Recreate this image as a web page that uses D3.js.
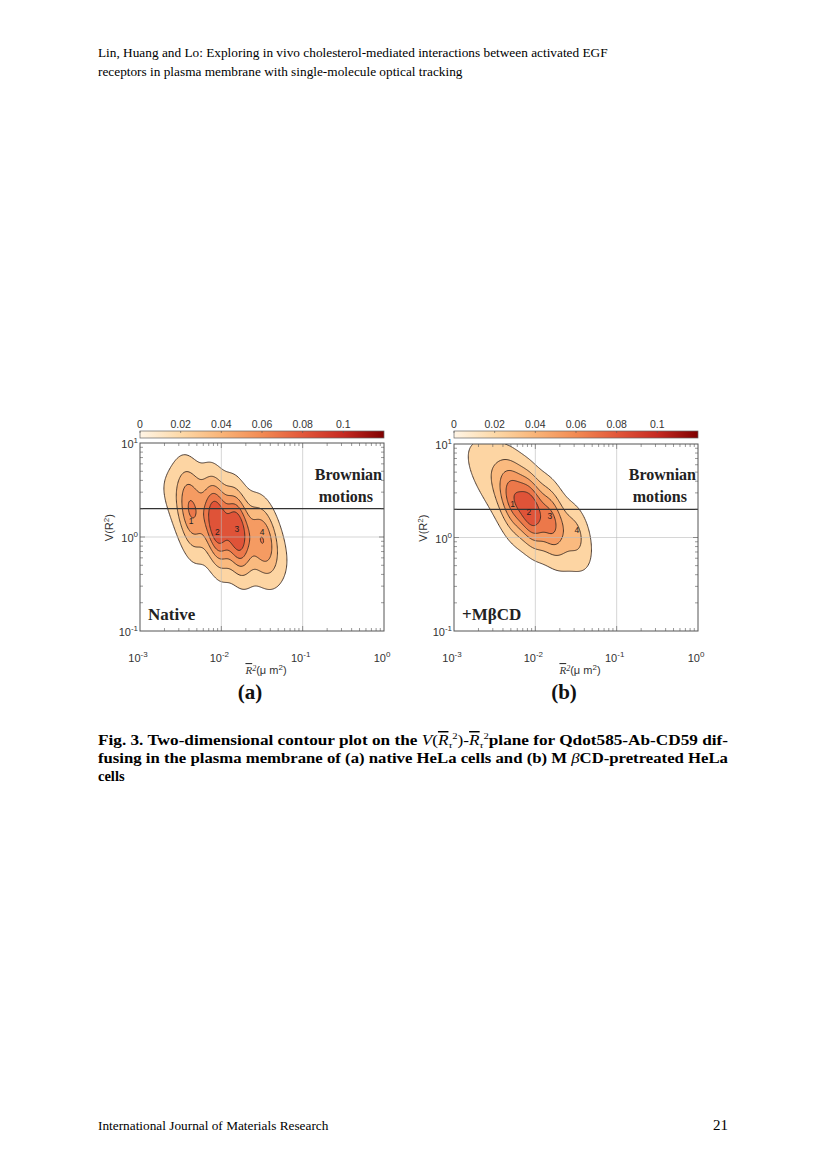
<!DOCTYPE html>
<html><head><meta charset="utf-8">
<script src="https://cdn.jsdelivr.net/npm/d3@7"></script>
<style>body{margin:0;background:#fff}</style></head>
<body><svg id="s" width="827" height="1169"></svg>
<script>
// ---- data ----
const xTicks = [-3, -2, -1, 0];           // log10 of R^2 (um^2)
const yTicks = [-1, 0, 1];                // log10 of V(R^2)
const cbTicks = [0, 0.02, 0.04, 0.06, 0.08, 0.1];
const levels = [0.01, 0.025, 0.04, 0.055, 0.07];
const brownianLevel = 2;
// density components: [log10 x centre, log10 y centre, sigma u, sigma v, rho, amplitude]
const compA = [
  [-1.98, 0.14, 0.48, 0.38, -0.65, 0.030],
  [-2.38, 0.28, 0.11, 0.31, -0.3, 0.036],
  [-2.06, 0.15, 0.10, 0.30, -0.3, 0.060],
  [-1.80, 0.06, 0.10, 0.29, -0.3, 0.058],
  [-1.48, -0.02, 0.12, 0.26, -0.3, 0.038]
];
const compB = [
  [-2.12, 0.36, 0.44, 0.42, -0.75, 0.036],
  [-2.27, 0.40, 0.12, 0.26, -0.3, 0.032],
  [-2.05, 0.28, 0.10, 0.24, -0.3, 0.042],
  [-1.80, 0.18, 0.11, 0.24, -0.3, 0.032],
  [-1.50, 0.05, 0.11, 0.20, -0.3, 0.018]
];
const peakLabelsA = [["1",-2.37,0.17],["2",-2.05,0.05],["3",-1.81,0.08],["4",-1.50,0.05]];
const peakLabelsB = [["1",-2.28,0.36],["2",-2.08,0.27],["3",-1.82,0.23],["4",-1.49,0.08]];

const svg = d3.select("#s");
const serif = "'Liberation Serif','Times New Roman',serif";
const sans = "'Liberation Sans',Arial,sans-serif";

svg.append("text").attr("x",98).attr("y",57).attr("font-family",serif).attr("font-size",13.3)
  .text("Lin, Huang and Lo: Exploring in vivo cholesterol-mediated interactions between activated EGF");
svg.append("text").attr("x",98).attr("y",76).attr("font-family",serif).attr("font-size",13.3)
  .text("receptors in plasma membrane with single-molecule optical tracking");
svg.append("text").attr("x",98).attr("y",1130).attr("font-family",serif).attr("font-size",13.3)
  .text("International Journal of Materials Research");
svg.append("text").attr("x",728).attr("y",1130).attr("text-anchor","end").attr("font-family",serif).attr("font-size",15)
  .text("21");

const colorStops = ["#fff5e6","#fdd9a8","#f9b478","#f28a53","#e2573a","#c62a22","#7f0000"];
const color = d3.scaleLinear().domain(d3.range(7).map(i=>i*0.02)).range(colorStops);

const defs = svg.append("defs");

function panel(px, top, comps, labels, name, tag, id) {
  const w = 244, bottom = 631;
  const x = d3.scaleLinear().domain([-3,0]).range([px, px+w]);
  const y = d3.scaleLinear().domain([-1,1]).range([bottom, top]);
  const g = svg.append("g");
  const grad = defs.append("linearGradient").attr("id","cb"+id);
  colorStops.forEach((c,i)=>grad.append("stop").attr("offset",(i/6*100)+"%").attr("stop-color",c));
  const cbx = d3.scaleLinear().domain([0,0.12]).range([px,px+w]);
  g.append("rect").attr("x",px).attr("y",431).attr("width",w).attr("height",7)
    .attr("fill",`url(#cb${id})`).attr("stroke","#666").attr("stroke-width",0.7);
  cbTicks.forEach(t=>{
    g.append("line").attr("x1",cbx(t)).attr("x2",cbx(t)).attr("y1",431).attr("y2",433).attr("stroke","#555").attr("stroke-width",0.6);
    g.append("text").attr("x",cbx(t)).attr("y",428).attr("text-anchor","middle")
      .attr("font-family",sans).attr("font-size",10.5).attr("fill","#333").text(t===0?"0":String(t));
  });
  const n=240, m=160;
  const vals = new Float64Array(n*m);
  const gu = d3.scaleLinear().domain([0,n-1]).range([-3,0]);
  const gv = d3.scaleLinear().domain([0,m-1]).range([1,-1]);
  for (let j=0;j<m;j++) for (let i=0;i<n;i++){
    const u=gu(i), v=gv(j); let s=0;
    for (const [cu,cv,su,sv,r,a] of comps){
      const du=(u-cu)/su, dv=(v-cv)/sv;
      s += a*Math.exp(-(du*du-2*r*du*dv+dv*dv)/(2*(1-r*r)));
    }
    vals[j*n+i]=s;
  }
  const cs = d3.contours().size([n,m]).thresholds(levels)(vals);
  const proj = d3.geoTransform({point:function(a,b){
    this.stream.point(x(gu(a-0.5)), y(gv(b-0.5)));}});
  const path = d3.geoPath(proj);
  defs.append("clipPath").attr("id","cl"+id).append("rect").attr("x",px).attr("y",top).attr("width",w).attr("height",bottom-top);
  const cg = g.append("g").attr("clip-path",`url(#cl${id})`);
  cg.selectAll("path").data(cs).join("path").attr("d",path)
    .attr("fill",(d,i)=>color(levels[i]+0.012)).attr("stroke","#3a2a22").attr("stroke-width",0.9);
  [-2,-1].forEach(t=>g.append("line").attr("x1",x(t)).attr("x2",x(t)).attr("y1",top).attr("y2",bottom).attr("stroke","#bbb").attr("stroke-width",0.6));
  g.append("line").attr("x1",px).attr("x2",px+w).attr("y1",y(0)).attr("y2",y(0)).attr("stroke","#bbb").attr("stroke-width",0.6);
  g.append("line").attr("x1",px).attr("x2",px+w).attr("y1",y(Math.log10(brownianLevel))).attr("y2",y(Math.log10(brownianLevel)))
    .attr("stroke","#333").attr("stroke-width",1.3);
  labels.forEach(([t,u,v])=>g.append("text").attr("x",x(u)).attr("y",y(v)+3).attr("text-anchor","middle")
    .attr("font-family",sans).attr("font-size",8.5).attr("fill","#222").text(t));
  g.append("rect").attr("x",px).attr("y",top).attr("width",w).attr("height",bottom-top).attr("fill","none").attr("stroke","#555").attr("stroke-width",1);
  for (let d=-3; d<0; d++) for (let k=1;k<10;k++){
    const t=d+Math.log10(k), L = k===1?5:3;
    if (k===1 && d===-3) continue;
    g.append("line").attr("x1",x(t)).attr("x2",x(t)).attr("y1",bottom).attr("y2",bottom-L).attr("stroke","#555").attr("stroke-width",0.6);
    g.append("line").attr("x1",x(t)).attr("x2",x(t)).attr("y1",top).attr("y2",top+L).attr("stroke","#555").attr("stroke-width",0.6);
  }
  for (let d=-1; d<1; d++) for (let k=1;k<10;k++){
    const t=d+Math.log10(k), L = k===1?5:3;
    if (k===1 && d===-1) continue;
    g.append("line").attr("x1",px).attr("x2",px+L).attr("y1",y(t)).attr("y2",y(t)).attr("stroke","#555").attr("stroke-width",0.6);
    g.append("line").attr("x1",px+w).attr("x2",px+w-L).attr("y1",y(t)).attr("y2",y(t)).attr("stroke","#555").attr("stroke-width",0.6);
  }
  xTicks.forEach(t=>{
    const tx=g.append("text").attr("x",x(t)-2).attr("y",662).attr("text-anchor","middle")
      .attr("font-family",sans).attr("font-size",11).attr("fill","#333");
    tx.append("tspan").text("10");
    tx.append("tspan").attr("dy",-5).attr("font-size",8).text(String(t));
  });
  yTicks.forEach(t=>{
    const tx=g.append("text").attr("x",px-2).attr("y",y(t)+5).attr("text-anchor","end")
      .attr("font-family",sans).attr("font-size",11).attr("fill","#333");
    tx.append("tspan").text("10");
    tx.append("tspan").attr("dy",-5).attr("font-size",8).text(String(t));
  });
  const xt = g.append("text").attr("x",x(-1.5)+4).attr("y",674).attr("text-anchor","middle").attr("font-size",11).attr("fill","#333");
  xt.append("tspan").attr("font-family",serif).attr("font-style","italic").attr("text-decoration","overline").text("R");
  xt.append("tspan").attr("font-family",serif).attr("font-style","italic").attr("dy",-3).attr("font-size",8).text("2");
  xt.append("tspan").attr("font-family",sans).attr("dy",3).text("(μ m");
  xt.append("tspan").attr("font-family",sans).attr("dy",-4).attr("font-size",8).text("2");
  xt.append("tspan").attr("font-family",sans).attr("dy",4).text(")");
  const yt = g.append("text").attr("transform",`translate(${px-27},${y(0.1)}) rotate(-90)`).attr("text-anchor","middle")
    .attr("font-family",sans).attr("font-size",11).attr("fill","#333");
  yt.append("tspan").text("V(R");
  yt.append("tspan").attr("dy",-4).attr("font-size",8).text("2");
  yt.append("tspan").attr("dy",4).text(")");
  g.append("text").attr("x",px+w-2).attr("y",480).attr("text-anchor","end").attr("font-family",serif).attr("font-weight","bold").attr("font-size",16).attr("fill","#222").text("Brownian");
  g.append("text").attr("x",px+w-11).attr("y",502).attr("text-anchor","end").attr("font-family",serif).attr("font-weight","bold").attr("font-size",16).attr("fill","#222").text("motions");
  g.append("text").attr("x",px+8).attr("y",620).attr("font-family",serif).attr("font-weight","bold").attr("font-size",17).attr("fill","#222").text(name);
  g.append("text").attr("x",px+110).attr("y",699).attr("text-anchor","middle").attr("font-family",serif).attr("font-weight","bold").attr("font-size",21).attr("fill","#111").text(tag);
}
panel(140, 443, compA, peakLabelsA, "Native", "(a)", "a");
panel(454, 444, compB, peakLabelsB, "+MβCD", "(b)", "b");

const cap = svg.append("g").attr("font-family",serif).attr("font-weight","bold").attr("font-size",14.5).attr("fill","#000");
const l1 = cap.append("text").attr("x",98).attr("y",745).attr("textLength",630).attr("lengthAdjust","spacingAndGlyphs");
l1.append("tspan").text("Fig. 3. Two-dimensional contour plot on the ");
l1.append("tspan").attr("font-weight","normal").attr("font-style","italic").text("V");
l1.append("tspan").attr("font-weight","normal").text("(");
l1.append("tspan").attr("font-weight","normal").attr("font-style","italic").attr("text-decoration","overline").text("R");
l1.append("tspan").attr("font-weight","normal").attr("font-style","italic").attr("font-size",9).attr("dy",3).text("τ");
l1.append("tspan").attr("font-weight","normal").attr("font-size",9).attr("dy",-9).text("2");
l1.append("tspan").attr("font-weight","normal").attr("dy",6).text(")-");
l1.append("tspan").attr("font-weight","normal").attr("font-style","italic").attr("text-decoration","overline").text("R");
l1.append("tspan").attr("font-weight","normal").attr("font-style","italic").attr("font-size",9).attr("dy",3).text("τ");
l1.append("tspan").attr("font-weight","normal").attr("font-size",9).attr("dy",-9).text("2");
l1.append("tspan").attr("dy",6).text("plane for Qdot585-Ab-CD59 dif-");
const l2 = cap.append("text").attr("x",98).attr("y",763).attr("textLength",630).attr("lengthAdjust","spacingAndGlyphs");
l2.append("tspan").text("fusing in the plasma membrane of (a) native HeLa cells and (b) M ");
l2.append("tspan").attr("font-weight","normal").attr("font-style","italic").text("β");
l2.append("tspan").text("CD-pretreated HeLa");
cap.append("text").attr("x",98).attr("y",781).text("cells");
</script></body></html>
